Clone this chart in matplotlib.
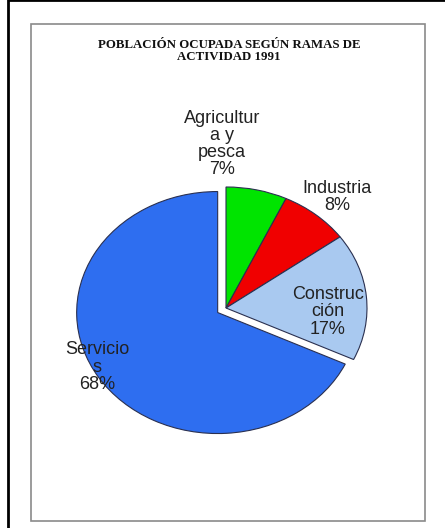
import matplotlib.pyplot as plt
from matplotlib.patches import Rectangle

# datos
ramas = ['Agricultur\na y\npesca', 'Industria', 'Construc\nción', 'Servicio\ns']
valores = [7, 8, 17, 68]
colores = ['#00E400', '#F00000', '#A9C9F0', '#2E6EF0']
explode = [0, 0, 0, 0.07]

W, H = 445, 528
fig = plt.figure(figsize=(W / 100, H / 100), dpi=100)

def fx(x):
    return x / W

def fy(y):
    return 1 - y / H

# marcos
fig.patches.append(Rectangle((fx(8), fy(600)), fx(500), 600 / H, transform=fig.transFigure,
                             fill=False, edgecolor='black', linewidth=2))
fig.patches.append(Rectangle((fx(31), fy(521)), fx(394), 497 / H, transform=fig.transFigure,
                             fill=False, edgecolor='#8a8a8a', linewidth=1.2))

fig.text(fx(229), fy(51), 'POBLACIÓN OCUPADA SEGÚN RAMAS DE\nACTIVIDAD 1991',
         ha='center', va='center', family='Liberation Serif', fontweight='bold',
         fontsize=9.3, linespacing=1.0, color='#111111')

# tarta (elíptica)
cx, cy, rx, ry = 226, 308, 141, 121
half = 150
ax = fig.add_axes([fx(cx - half), fy(cy + half), 2 * half / W, 2 * half / H])
ax.pie(valores, colors=colores, explode=explode, startangle=90, counterclock=False,
       wedgeprops=dict(edgecolor='#2a3050', linewidth=0.8))
ax.set_aspect('auto')
ax.set_xlim(-half / rx, half / rx)
ax.set_ylim(-half / ry, half / ry)
ax.axis('off')

# etiquetas
pos = [(222, 144), (337, 197), (328, 312), (97, 367)]
for nombre, v, (x, y) in zip(ramas, valores, pos):
    fig.text(fx(x), fy(y), f'{nombre}\n{v}%', ha='center', va='center',
             family='Liberation Sans', fontsize=13, linespacing=1.02, color='#222222')

fig.savefig('out.png', dpi=100)
